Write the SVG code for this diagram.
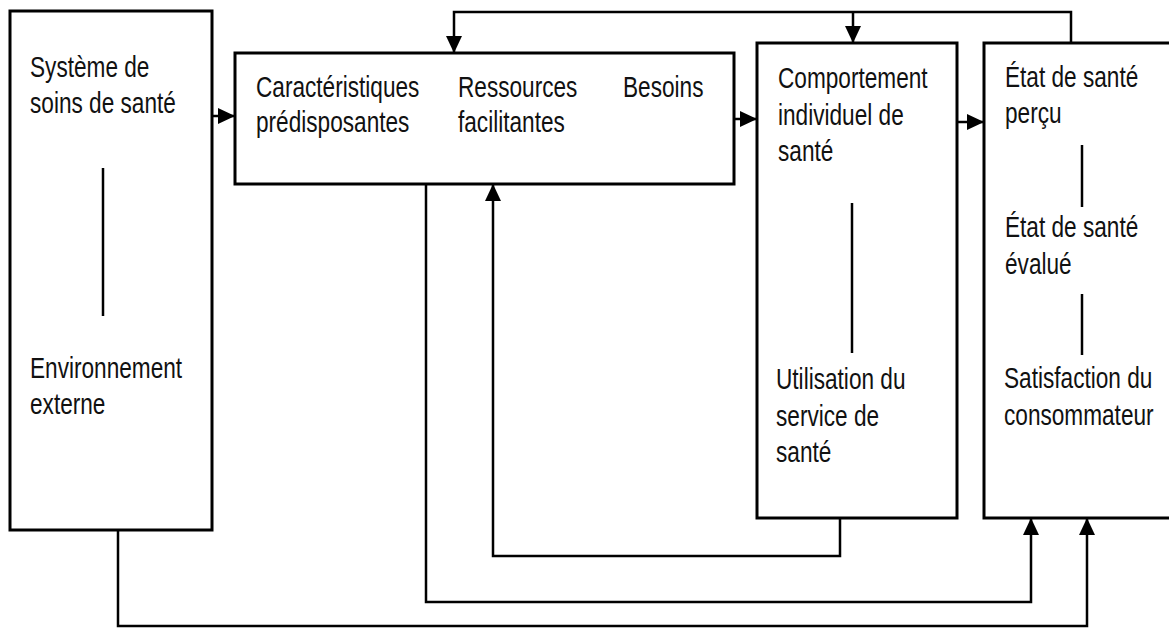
<svg xmlns="http://www.w3.org/2000/svg" width="1169" height="628" viewBox="0 0 1169 628">
<defs>
<marker id="arr" markerUnits="userSpaceOnUse" markerWidth="17" markerHeight="16" refX="17" refY="8" orient="auto" viewBox="0 0 17 16">
<path d="M0,0 L17,8 L0,16 z" fill="#000"/>
</marker>
<style>
.box{fill:#fff;stroke:#000;stroke-width:3}
.sep{stroke:#000;stroke-width:2.5;fill:none}
.con{stroke:#000;stroke-width:2.5;fill:none}
.t{font-family:"Liberation Sans",Arial,sans-serif;font-size:29px;fill:#111}
</style>
</defs>
<rect width="1169" height="628" fill="#fff"/>

<g id="connectors">
<path class="con" d="M212,116 L235,116" marker-end="url(#arr)"/>
<path class="con" d="M734,119 L757,119" marker-end="url(#arr)"/>
<path class="con" d="M957,122 L984,122" marker-end="url(#arr)"/>
<path class="con" d="M1071,43 L1071,12 L454,12 L454,53" marker-end="url(#arr)"/>
<path class="con" d="M853,12 L853,43" marker-end="url(#arr)"/>
<path class="con" d="M840,518 L840,556 L493,556 L493,184" marker-end="url(#arr)"/>
<path class="con" d="M426,184 L426,602 L1031,602 L1031,518" marker-end="url(#arr)"/>
<path class="con" d="M118,530 L118,626 L1087,626 L1087,518" marker-end="url(#arr)"/>
</g>

<g id="node-systeme">
<rect class="box" x="10" y="11" width="202" height="519"/>
<line class="sep" x1="103" y1="168" x2="103" y2="316"/>
<text class="t" transform="translate(30,77) scale(0.78,1)"><tspan x="0" y="0">Système de</tspan><tspan x="0" y="36">soins de santé</tspan></text>
<text class="t" transform="translate(30,378) scale(0.78,1)"><tspan x="0" y="0">Environnement</tspan><tspan x="0" y="36">externe</tspan></text>
</g>

<g id="node-caracteristiques">
<rect class="box" x="235" y="53" width="499" height="131"/>
<text class="t" transform="translate(256,97) scale(0.78,1)"><tspan x="0" y="0">Caractéristiques</tspan><tspan x="0" y="35">prédisposantes</tspan></text>
<text class="t" transform="translate(458,97) scale(0.78,1)"><tspan x="0" y="0">Ressources</tspan><tspan x="0" y="35">facilitantes</tspan></text>
<text class="t" transform="translate(623,97) scale(0.78,1)"><tspan x="0" y="0">Besoins</tspan></text>
</g>

<g id="node-comportement">
<rect class="box" x="757" y="43" width="200" height="475"/>
<line class="sep" x1="852" y1="203" x2="852" y2="353"/>
<text class="t" transform="translate(778,88) scale(0.78,1)"><tspan x="0" y="0">Comportement</tspan><tspan x="0" y="37">individuel de</tspan><tspan x="0" y="73">santé</tspan></text>
<text class="t" transform="translate(776,389) scale(0.78,1)"><tspan x="0" y="0">Utilisation du</tspan><tspan x="0" y="37">service de</tspan><tspan x="0" y="73">santé</tspan></text>
</g>

<g id="node-etat">
<path class="box" d="M1172,43 L984,43 L984,518 L1172,518"/>
<line class="sep" x1="1082" y1="145" x2="1082" y2="207"/>
<line class="sep" x1="1082" y1="294" x2="1082" y2="355"/>
<text class="t" transform="translate(1005,87) scale(0.78,1)"><tspan x="0" y="0">État de santé</tspan><tspan x="0" y="36">perçu</tspan></text>
<text class="t" transform="translate(1005,237) scale(0.78,1)"><tspan x="0" y="0">État de santé</tspan><tspan x="0" y="37">évalué</tspan></text>
<text class="t" transform="translate(1004,388) scale(0.78,1)"><tspan x="0" y="0">Satisfaction du</tspan><tspan x="0" y="37">consommateur</tspan></text>
</g>
</svg>
